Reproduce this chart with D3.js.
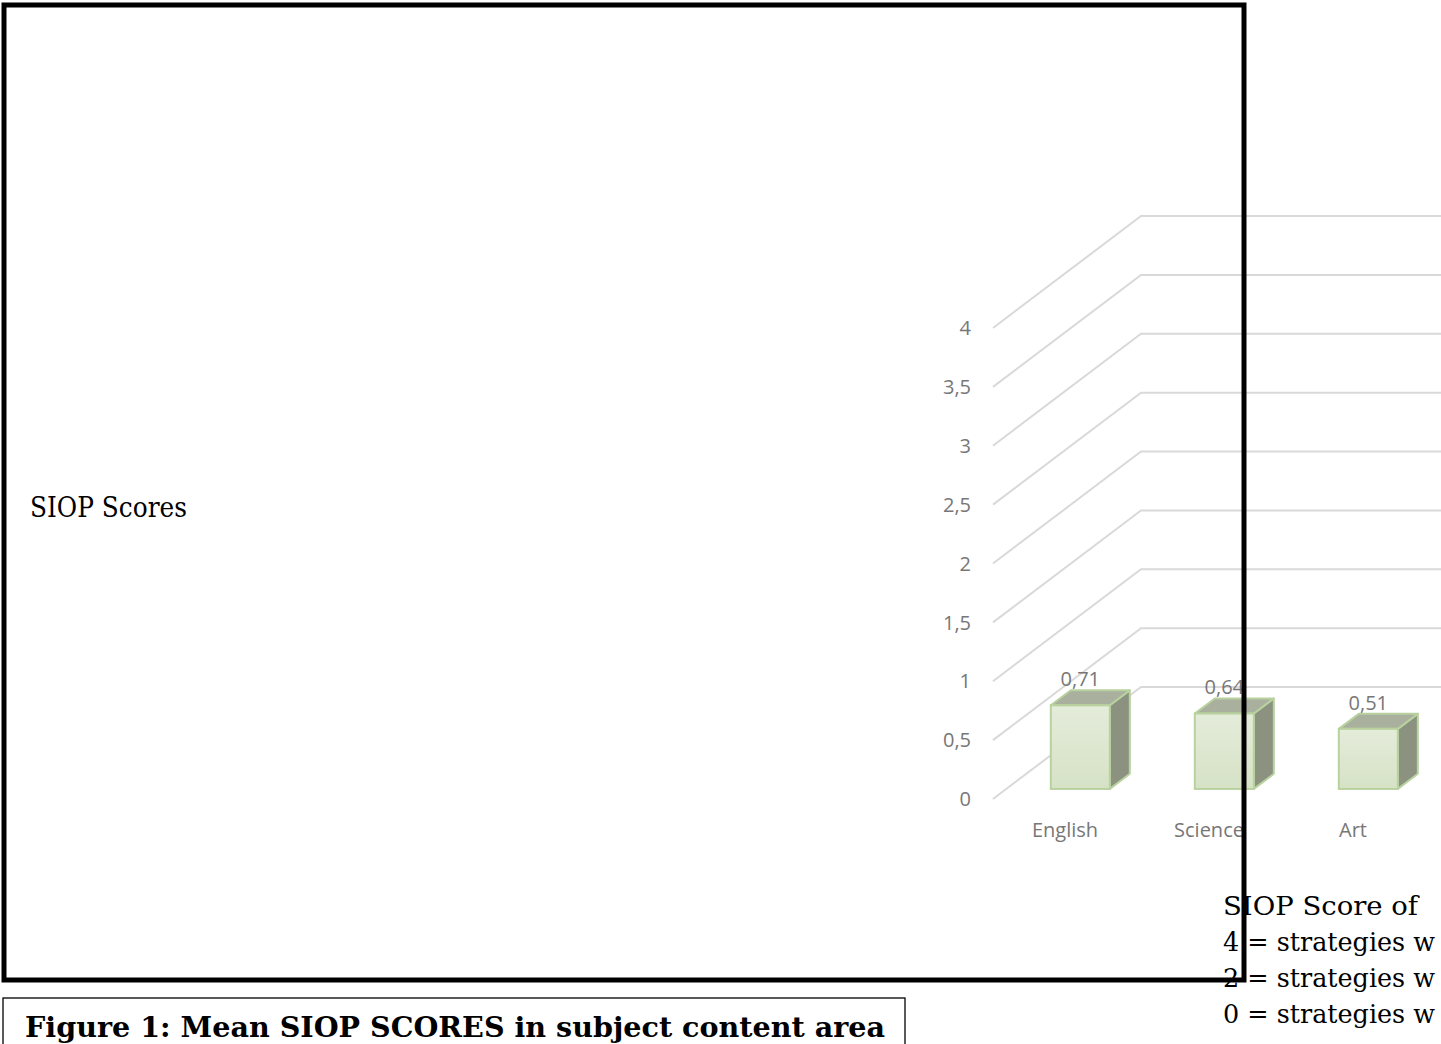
<!DOCTYPE html>
<html>
<head>
<meta charset="utf-8">
<script src="https://cdn.jsdelivr.net/npm/d3@7"></script>
<style>
  html, body { margin: 0; padding: 0; background: #fff; overflow: hidden; }
</style>
</head>
<body>
<div id="chart"></div>
<script>
// data
var categories = ["English", "Science", "Art"];
var means = [0.71, 0.64, 0.51];
var yTicks = [0, 0.5, 1, 1.5, 2, 2.5, 3, 3.5, 4];
var axisTitle = "SIOP Scores";
var legendLines = ["SIOP Score of", "4 = strategies w", "2 = strategies w", "0 = strategies w"];
var captionText = "Figure 1: Mean SIOP SCORES in subject content area";

var W = 1441, H = 1044;

// comma decimals like the original
var locale = d3.formatLocale({decimal: ",", thousands: ".", grouping: [3], currency: ["", ""]});
var tickFmt = locale.format("~f");
var valFmt = locale.format(".2f");

var svg = d3.select("#chart").append("svg")
    .attr("width", W)
    .attr("height", H);

var defs = svg.append("defs");
var grad = defs.append("linearGradient")
    .attr("id", "frontGrad")
    .attr("x1", 0).attr("y1", 0).attr("x2", 0).attr("y2", 1);
grad.append("stop").attr("offset", "0%").attr("stop-color", "#e4ecda");
grad.append("stop").attr("offset", "100%").attr("stop-color", "#d6e2c6");

// 3d box geometry
var floorX = 993;
var depth = {dx: 148, dy: -112};
var frontT = 0.09;   // where the bar front sits inside the box
var barT = 0.135;    // bar depth, as a share of the box depth

var y = d3.scaleLinear().domain([0, 4]).range([799, 328]);
var x = d3.scaleBand()
    .domain(categories)
    .range([995, 995 + 432])
    .paddingInner(0.59)
    .paddingOuter(0.295);

var labelFont = "'Open Sans', sans-serif";
var labelSize = 20;
var labelColor = "#777777";

// gridlines: side wall diagonal + back wall
var grid = svg.append("g");
grid.selectAll("path")
    .data(yTicks)
    .join("path")
    .attr("d", d => {
        var y0 = y(d);
        return `M${floorX},${y0} L${floorX + depth.dx},${y0 + depth.dy} L${W + 10},${y0 + depth.dy}`;
    })
    .attr("fill", "none")
    .attr("stroke", "#d9d9d9")
    .attr("stroke-width", 2);

// y tick labels
svg.append("g")
    .selectAll("text")
    .data(yTicks)
    .join("text")
    .attr("x", 971)
    .attr("y", d => y(d))
    .attr("dy", "0.36em")
    .attr("text-anchor", "end")
    .attr("font-family", labelFont)
    .attr("font-size", labelSize)
    .attr("fill", labelColor)
    .text(d => tickFmt(d));

// bars
var offX = depth.dx * frontT, offY = depth.dy * frontT;
var bdx = depth.dx * barT, bdy = depth.dy * barT;
var bw = x.bandwidth();

var bars = svg.append("g")
    .selectAll("g")
    .data(categories.map((c, i) => ({cat: c, val: means[i]})))
    .join("g");

bars.each(function(d) {
    var g = d3.select(this);
    var x0 = x(d.cat) + offX;
    var x1 = x0 + bw;
    var yb = y(0) + offY;
    var yt = y(d.val) + offY;
    // side
    g.append("path")
        .attr("d", `M${x1},${yb} L${x1 + bdx},${yb + bdy} L${x1 + bdx},${yt + bdy} L${x1},${yt} Z`)
        .attr("fill", "#8b927f")
        .attr("stroke", "#b9d19f")
        .attr("stroke-width", 2)
        .attr("stroke-linejoin", "round");
    // top
    g.append("path")
        .attr("d", `M${x0},${yt} L${x0 + bdx},${yt + bdy} L${x1 + bdx},${yt + bdy} L${x1},${yt} Z`)
        .attr("fill", "#a9b09e")
        .attr("stroke", "#b9d19f")
        .attr("stroke-width", 2)
        .attr("stroke-linejoin", "round");
    // front
    g.append("rect")
        .attr("x", x0)
        .attr("y", yt)
        .attr("width", bw)
        .attr("height", yb - yt)
        .attr("fill", "url(#frontGrad)")
        .attr("stroke", "#b9d19f")
        .attr("stroke-width", 2);
    // value label
    g.append("text")
        .attr("x", x0 + bw / 2)
        .attr("y", yt + bdy - 4)
        .attr("text-anchor", "middle")
        .attr("font-family", labelFont)
        .attr("font-size", labelSize)
        .attr("fill", labelColor)
        .text(valFmt(d.val));
});

// category labels
svg.append("g")
    .selectAll("text")
    .data(categories)
    .join("text")
    .attr("x", d => x(d) + bw / 2 - 2)
    .attr("y", 837)
    .attr("text-anchor", "middle")
    .attr("font-family", labelFont)
    .attr("font-size", labelSize)
    .attr("fill", labelColor)
    .text(d => d);

// axis title
svg.append("text")
    .attr("x", 30)
    .attr("y", 517)
    .attr("font-family", "'DejaVu Serif', serif")
    .attr("font-size", 28)
    .attr("textLength", 157)
    .attr("lengthAdjust", "spacingAndGlyphs")
    .attr("fill", "#000")
    .text(axisTitle);

// legend note on the right (condensed face so it fits before the page edge)
svg.append("g")
    .selectAll("text")
    .data(legendLines)
    .join("text")
    .attr("x", 1223)
    .attr("y", (d, i) => 915 + i * 36)
    .attr("font-family", "'DejaVu Serif Condensed', 'DejaVu Serif', serif")
    .attr("font-stretch", "condensed")
    .attr("font-size", 26)
    .attr("textLength", (d, i) => i === 0 ? 195 : 212)
    .attr("lengthAdjust", "spacingAndGlyphs")
    .attr("fill", "#000")
    .text(d => d);

// outer frame, drawn over the chart
svg.append("rect")
    .attr("x", 4)
    .attr("y", 5)
    .attr("width", 1240)
    .attr("height", 975)
    .attr("fill", "none")
    .attr("stroke", "#000")
    .attr("stroke-width", 5);

// caption box
svg.append("rect")
    .attr("x", 3)
    .attr("y", 998)
    .attr("width", 902)
    .attr("height", 70)
    .attr("fill", "none")
    .attr("stroke", "#000")
    .attr("stroke-width", 1.3);

svg.append("text")
    .attr("x", 25)
    .attr("y", 1037)
    .attr("font-family", "'DejaVu Serif', serif")
    .attr("font-weight", "bold")
    .attr("font-size", 27)
    .attr("textLength", 860)
    .attr("lengthAdjust", "spacingAndGlyphs")
    .attr("fill", "#000")
    .text(captionText);
</script>
</body>
</html>
